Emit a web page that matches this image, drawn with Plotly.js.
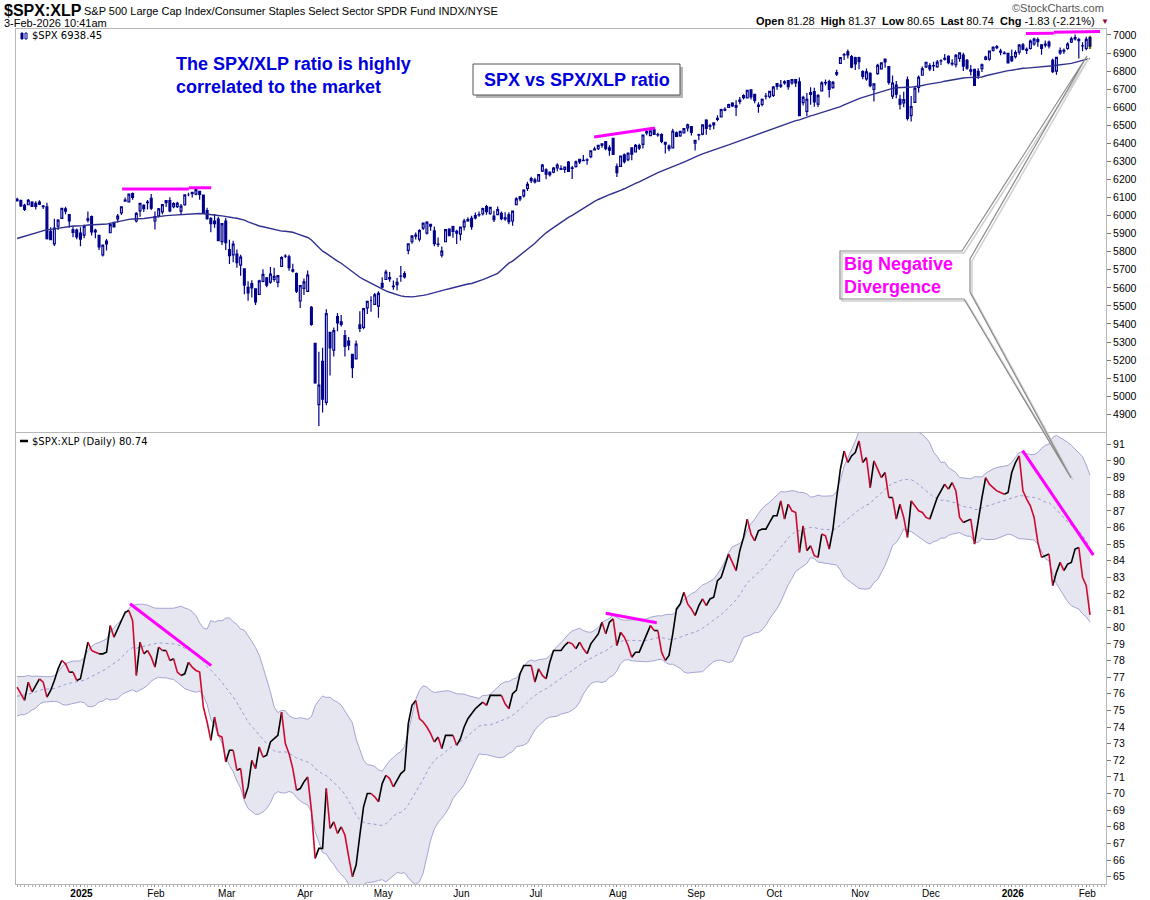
<!DOCTYPE html>
<html><head><meta charset="utf-8">
<script src="https://cdn.plot.ly/plotly-3.0.1.min.js"></script>
<style>html,body{margin:0;padding:0;background:#fff}#chart{width:1150px;height:900px}</style>
</head><body><div id="chart"></div>
<script>
// ---------- calendar ----------
const startDate = '2024-12-06', endDate = '2026-02-03';
const holidays = ['2024-12-25','2025-01-01','2025-01-09','2025-01-20','2025-02-17','2025-04-18','2025-05-26',
  '2025-06-19','2025-07-04','2025-09-01','2025-11-27','2025-12-25','2026-01-01','2026-01-19'];
const monthNames = ['Jan','Feb','Mar','Apr','May','Jun','Jul','Aug','Sep','Oct','Nov','Dec'];

// ---------- $SPX daily OHLC (Dec 6 2024 .. Feb 3 2026) ----------
const spxOpen = [
6081,6083,6057,6060,6075,6068,6063,6053,6048,5913,5843,5941,5985,6025,6006,5921,5920,
5903,5892,5982,5994,5910,5890,5782,5859,5905,5962,5982,6015,6080,6076,6121,5970,6026,6057,6074,6096,
5970,5998,6021,6072,6083,6049,6050,6025,6060,6115,6122,6118,6134,6114,6027,5983,5970,5981,5856,
5969,5812,5782,5787,5726,5705,5603,5624,5595,5563,5635,5655,5632,5646,5630,5718,5775,5772,5700,5679,5527,
5597,5580,5492,5292,4953,5193,4966,5353,5255,5441,5412,5335,5305,5232,5207,5395,5381,5489,5529,5508,5499,
5625,5646,5657,5610,5618,5665,5679,5807,5855,5886,5869,5930,5903,5951,5915,5841,5781,5855,5925,5939,5903,
5897,5938,5978,5985,5987,6004,6010,6050,6010,5997,6005,6013,5987,6004,5970,6061,6104,6109,6151,6194,
6187,6191,6246,6253,6241,6240,6264,6256,6255,6296,6261,6271,6311,6304,6307,6326,6368,6370,6397,6409,6375,6428,
6271,6272,6336,6309,6375,6352,6387,6394,6458,6443,6478,6446,6448,6405,6384,6375,6458,6441,6458,6486,6492,
6401,6445,6451,6529,6498,6502,6538,6546,6588,6599,6623,6609,6640,6653,6652,6696,6671,6612,6615,6662,6658,
6665,6731,6722,6734,6747,6735,6753,6740,6625,6577,6681,6686,6617,6690,6735,6742,6708,6783,6843,6890,6907,6880,6875,
6875,6797,6757,6788,6698,6786,6812,6866,6825,6661,6722,6643,6624,6751,6553,6627,6710,6777,6823,
6830,6830,6823,6856,6866,6882,6843,6835,6870,6888,6860,6807,6810,6798,6814,6865,6866,6914,6936,6910,6900,6898,
6880,6880,6905,6945,6915,6925,6950,6975,6945,6950,6960,6860,6800,6900,6910,6925,6960,6985,6975,6940,6925,6985];
const spxHigh = [
6099,6089,6065,6092,6080,6079,6085,6058,6071,5935,5982,5979,6040,6049,6007,5941,5929,
5935,5950,6022,6000,5927,5891,5836,5871,5960,5964,6009,6051,6100,6119,6128,6018,6069,6063,6086,6120,
6022,6042,6062,6084,6101,6074,6076,6064,6117,6127,6129,6147,6135,6114,6043,5992,6009,5994,5959,
5986,5866,5861,5812,5783,5706,5636,5642,5597,5645,5703,5660,5716,5711,5670,5775,5786,5783,5733,5685,5615,
5651,5696,5500,5292,5246,5268,5481,5353,5381,5460,5450,5367,5328,5232,5309,5470,5485,5528,5554,5571,5581,
5659,5700,5688,5641,5655,5721,5692,5845,5893,5906,5925,5959,5968,5954,5939,5878,5829,5924,5930,5944,5922,
5937,5982,5991,5999,6017,6022,6043,6060,6046,6027,6050,6023,6018,6018,6025,6101,6108,6146,6187,6215,
6210,6228,6285,6262,6242,6269,6290,6278,6272,6302,6275,6305,6315,6336,6317,6360,6381,6390,6401,6410,6390,6428,
6288,6330,6344,6350,6378,6396,6398,6446,6480,6473,6482,6459,6456,6407,6394,6481,6466,6470,6483,6508,6493,
6416,6453,6503,6533,6509,6513,6555,6592,6600,6619,6627,6639,6656,6672,6696,6697,6674,6627,6648,6678,6690,
6718,6731,6750,6749,6749,6755,6756,6765,6663,6678,6711,6708,6673,6744,6753,6752,6745,6807,6876,6900,6920,6889,6879,
6879,6804,6814,6793,6731,6841,6847,6870,6827,6775,6745,6669,6685,6770,6662,6713,6776,6825,6849,
6843,6851,6862,6866,6895,6888,6865,6895,6904,6902,6867,6834,6813,6816,6842,6885,6913,6937,6945,6923,6910,6900,
6920,6915,6950,6955,6930,6975,6985,6986,6950,6970,6970,6870,6880,6930,6925,6960,6990,7002,6985,6960,6990,6995];
const spxLow = [
6079,6048,6025,6060,6050,6034,6059,6036,5868,5866,5832,5920,5981,6007,5932,5880,5869,
5830,5875,5961,5890,5874,5809,5773,5806,5905,5935,5962,6003,6076,6074,6088,5962,5994,6020,6033,6031,
5923,5990,6007,6047,6019,6040,6042,6003,6054,6107,6100,6112,6088,6009,5977,5908,5933,5858,5837,
5810,5732,5742,5711,5667,5565,5528,5546,5505,5563,5631,5603,5622,5633,5603,5718,5765,5695,5685,5572,5489,
5560,5579,5390,5069,4835,4910,4950,5115,5220,5359,5386,5220,5255,5101,5207,5356,5371,5455,5468,5506,5434,
5597,5646,5633,5590,5586,5633,5651,5786,5844,5868,5857,5920,5895,5916,5830,5826,5768,5855,5886,5877,5843,
5862,5918,5966,5921,5978,5994,6001,6004,6005,5964,6005,5974,5971,5952,5943,6059,6080,6100,6136,6180,
6178,6189,6241,6201,6217,6235,6245,6252,6236,6243,6202,6266,6286,6303,6281,6317,6360,6363,6375,6362,6331,6335,
6213,6272,6289,6301,6306,6350,6363,6372,6445,6441,6446,6437,6400,6344,6356,6375,6438,6436,6456,6466,6444,
6360,6417,6445,6447,6474,6478,6522,6545,6577,6598,6601,6551,6617,6642,6652,6642,6622,6570,6605,6643,6649,
6657,6697,6707,6725,6697,6725,6712,6550,6610,6552,6613,6602,6601,6690,6720,6654,6702,6773,6843,6862,6870,6816,6806,
6810,6755,6747,6711,6632,6780,6809,6818,6724,6646,6650,6587,6600,6527,6521,6625,6682,6777,6817,
6800,6800,6818,6834,6858,6838,6829,6820,6852,6801,6807,6776,6719,6756,6795,6860,6857,6909,6921,6888,6893,6844,
6850,6870,6890,6915,6895,6920,6940,6935,6890,6930,6925,6790,6780,6890,6895,6918,6955,6970,6870,6910,6915,6922];
const spxClose = [
6090,6053,6034,6084,6051,6051,6074,6050,5872,5867,5931,5975,6040,6037,5971,5907,5882,
5869,5942,5975,5909,5918,5827,5836,5843,5950,5937,5997,6049,6086,6119,6101,6012,6068,6039,6071,6041,
5994,6037,6061,6083,6026,6066,6068,6052,6115,6115,6129,6144,6117,6013,5983,5955,5956,5861,5955,
5850,5778,5842,5739,5770,5615,5572,5599,5522,5639,5675,5615,5676,5663,5668,5767,5776,5712,5693,5581,5612,
5633,5671,5397,5074,5062,4983,5457,5268,5363,5406,5397,5276,5283,5158,5288,5376,5485,5525,5529,5561,5569,
5604,5687,5650,5607,5631,5664,5660,5844,5886,5892,5917,5958,5964,5941,5845,5842,5803,5922,5889,5912,5912,
5936,5970,5971,5939,6000,6006,6039,6022,6045,5977,6033,5983,5981,5967,6025,6092,6092,6141,6173,6205,
6198,6227,6279,6230,6226,6263,6280,6260,6269,6244,6264,6297,6297,6306,6309,6359,6363,6389,6390,6371,6362,6339,
6238,6330,6299,6345,6340,6389,6374,6446,6466,6469,6450,6449,6411,6396,6370,6467,6439,6466,6481,6502,6460,
6416,6448,6502,6482,6495,6513,6532,6587,6584,6615,6607,6600,6632,6664,6694,6657,6638,6605,6644,6661,6688,
6711,6715,6716,6740,6714,6753,6735,6553,6654,6644,6671,6630,6664,6735,6736,6699,6738,6792,6875,6891,6890,6822,6840,
6852,6771,6796,6720,6729,6832,6846,6851,6738,6734,6672,6617,6642,6538,6603,6705,6766,6813,6849,
6812,6829,6850,6857,6870,6847,6840,6887,6901,6827,6816,6800,6721,6775,6835,6878,6910,6932,6930,6905,6896,6845,
6858,6902,6944,6921,6921,6966,6977,6963,6926,6944,6940,6797,6876,6913,6915,6950,6978,6978,6969,6939,6976,6938];
// closes of the 49 sessions before the first bar (for the 50-day average)
const spxCloseBefore = [5738,5762,5709,5709,5700,5751,5696,5751,5792,5780,5815,5859,5815,5842,5841,5865,5853,5851,
5797,5809,5808,5823,5832,5813,5705,5729,5712,5782,5929,5973,5996,6001,5984,5985,5949,5871,5893,5917,5917,5949,
5970,5987,6021,5999,6032,6047,6050,6087,6075];

// ---------- $SPX:XLP ratio (daily close) ----------
const ratio = [
76.4,76.0,75.6,76.7,76.1,76.5,76.9,76.7,75.8,76.2,76.8,77.5,78.0,77.8,77.3,77.3,76.8,
76.9,78.0,79.1,78.6,78.5,78.4,78.4,78.5,80.1,79.4,79.9,80.3,80.9,81.0,80.4,77.1,79.1,78.4,78.6,78.2,
77.6,78.8,78.6,78.6,78.0,78.1,77.3,77.1,77.2,77.9,77.6,77.4,77.3,75.2,74.3,73.2,74.6,73.5,73.4,
71.9,72.6,72.6,71.4,71.5,69.7,70.4,72.0,71.5,72.8,72.2,72.3,73.1,73.3,73.5,74.9,73.0,72.4,71.5,70.2,70.3,
70.7,71.0,69.0,66.1,66.7,66.7,70.3,67.9,68.3,67.6,68.0,67.5,66.2,65.0,65.7,67.5,69.2,70.0,70.0,69.8,69.5,
70.6,71.1,70.9,70.4,70.8,71.2,71.4,74.2,75.3,75.6,74.5,74.3,74.0,73.6,73.1,73.4,72.7,73.5,73.5,73.5,72.9,
73.3,74.0,74.5,74.8,75.1,75.3,75.5,75.3,75.9,75.9,75.9,75.9,75.4,75.1,76.0,76.2,77.2,77.7,77.7,77.7,
76.7,77.5,77.1,76.9,77.9,78.6,78.6,78.6,78.9,79.1,79.0,78.7,79.1,78.7,78.4,79.0,79.3,79.6,80.3,79.6,80.3,80.5,
78.9,79.7,79.4,78.9,78.2,78.5,78.5,79.0,79.6,80.1,79.8,79.8,78.5,78.0,78.3,79.6,81.1,81.4,82.1,81.4,81.1,
80.7,81.3,81.7,81.3,81.7,81.8,82.8,83.0,83.7,84.4,83.9,83.4,84.6,85.4,86.5,85.6,85.2,85.8,85.9,85.9,86.3,
86.7,86.7,87.6,86.5,87.4,87.0,86.9,84.5,86.1,84.6,84.9,84.3,84.2,85.6,85.5,84.7,85.9,87.8,89.5,90.6,89.9,90.3,90.5,
91.2,89.9,90.2,88.4,90.0,89.5,89.0,89.3,87.8,87.8,86.5,87.4,86.6,85.4,87.6,87.3,87.0,86.9,86.6,
86.5,87.1,87.8,88.2,88.6,88.3,88.7,88.2,86.6,86.3,86.4,86.5,85.0,86.5,87.8,89.0,88.6,88.4,88.2,88.1,88.0,88.1,
89.3,89.9,90.3,88.2,87.7,87.3,86.6,85.1,84.2,84.3,84.4,82.5,83.3,83.9,83.4,83.8,83.9,84.7,84.8,83.0,82.5,80.74];
// 19 sessions before the first bar (for the 20-day Bollinger Bands)
const ratioBefore = [75.2,75.6,75.0,74.9,75.3,74.8,75.4,75.7,75.9,76.2,75.8,76.1,76.4,76.0,76.3,75.9,76.5,76.7,76.9];

// ---------- drawn trend lines: [index0, value0, index1, value1] ----------
const spxTrendLines = [[28.2,6147,46.1,6147],[46.1,6154,52.1,6154],[154.9,6435,171.2,6485],[270.8,7008,278.3,7009],[278.3,7015,290.7,7019]];
const ratioTrendLines = [[30.3,81.41,52.1,77.69],[158.0,80.84,171.7,80.27],[269.9,90.62,288.9,84.34]];

// ---------- build ----------
function tradingDates(s, e){
  const out = []; const d = new Date(s+'T00:00:00Z'); const end = new Date(e+'T00:00:00Z');
  while (d <= end){
    const wd = d.getUTCDay(); const iso = d.toISOString().slice(0,10);
    if (wd !== 0 && wd !== 6 && !holidays.includes(iso)) out.push(iso);
    d.setUTCDate(d.getUTCDate()+1);
  }
  return out;
}
const dates = tradingDates(startDate, endDate);
const idx = spxClose.map((_, i) => i);

const tickIdx = [], tickText = [];
for (let i = 1; i < dates.length; i++){
  if (dates[i].slice(5,7) !== dates[i-1].slice(5,7)){
    const m = +dates[i].slice(5,7);
    tickIdx.push(i);
    tickText.push(m === 1 ? '<b>' + dates[i].slice(0,4) + '</b>' : monthNames[m-1]);
  }
}

function sma(prior, vals, n){
  const all = prior.concat(vals), off = prior.length;
  return vals.map((_, i) => { let s = 0; for (let k = i+off-n+1; k <= i+off; k++) s += all[k]; return s/n; });
}
const spxMA50 = sma(spxCloseBefore, spxClose, 50);
const allRatio = ratioBefore.concat(ratio);
const bbMid = [], bbUp = [], bbLo = [];
ratio.forEach((_, i) => {
  const w = allRatio.slice(i, i+20); const m = w.reduce((a,b)=>a+b,0)/20;
  const sd = Math.sqrt(w.reduce((a,b)=>a+(b-m)*(b-m),0)/20);
  bbMid.push(m); bbUp.push(m+2*sd); bbLo.push(m-2*sd);
});

function dirSegments(xs, ys, up){
  const X = [], Y = []; let open = false;
  for (let i = 1; i < ys.length; i++){
    const isUp = ys[i] >= ys[i-1];
    if (isUp === up){
      if (!open){ X.push(xs[i-1]); Y.push(ys[i-1]); open = true; }
      X.push(xs[i]); Y.push(ys[i]);
    } else if (open){ X.push(null); Y.push(null); open = false; }
  }
  return {X, Y};
}
const upSeg = dirSegments(idx, ratio, true), dnSeg = dirSegments(idx, ratio, false);

const NAVY = '#00008b';
const traces = [
  {type:'scatter', mode:'lines', x:idx, y:spxMA50, xaxis:'x', yaxis:'y', line:{color:'#30308f', width:1.4}, hoverinfo:'skip'},
  {type:'candlestick', x:idx, open:spxOpen, high:spxHigh, low:spxLow, close:spxClose, xaxis:'x', yaxis:'y',
   whiskerwidth:0, hoverinfo:'skip',
   increasing:{line:{color:NAVY, width:1.2}, fillcolor:'#ffffff'},
   decreasing:{line:{color:NAVY, width:1.2}, fillcolor:NAVY}},
  {type:'scatter', mode:'lines', x:idx, y:bbLo, xaxis:'x2', yaxis:'y2', line:{color:'#a4a4d4', width:1}, hoverinfo:'skip'},
  {type:'scatter', mode:'lines', x:idx, y:bbUp, xaxis:'x2', yaxis:'y2', line:{color:'#a4a4d4', width:1}, fill:'tonexty', fillcolor:'#e6e6f1', hoverinfo:'skip'},
  {type:'scatter', mode:'lines', x:idx, y:bbMid, xaxis:'x2', yaxis:'y2', line:{color:'#9a9ad0', width:1, dash:'dot'}, hoverinfo:'skip'},
  {type:'scatter', mode:'lines', x:upSeg.X, y:upSeg.Y, xaxis:'x2', yaxis:'y2', line:{color:'#000000', width:1.6}, connectgaps:false, hoverinfo:'skip'},
  {type:'scatter', mode:'lines', x:dnSeg.X, y:dnSeg.Y, xaxis:'x2', yaxis:'y2', line:{color:'#cc0a30', width:1.6}, connectgaps:false, hoverinfo:'skip'}
];

// pixel -> paper helper for decorations
const L = 16, R = 1106, T = 29, B = 884;
const px = v => (v - L) / (R - L), py = v => (B - v) / (B - T);

const shapes = [];
const last = spxClose.length - 1;
shapes.push({type:'rect', xref:'x', yref:'y', layer:'below', x0:last-0.55, x1:last+0.55, y0:spxLow[last], y1:spxHigh[last], fillcolor:'#ffff66', line:{width:0}});
spxTrendLines.forEach(l => shapes.push({type:'line', xref:'x', yref:'y', x0:l[0], y0:l[1], x1:l[2], y1:l[3], line:{color:'#ff00ff', width:3}}));
ratioTrendLines.forEach(l => shapes.push({type:'line', xref:'x2', yref:'y2', x0:l[0], y0:l[1], x1:l[2], y1:l[3], line:{color:'#ff00ff', width:3}}));

// "SPX vs SPX/XLP ratio" box with shadow
shapes.push({type:'rect', xref:'paper', yref:'paper', x0:px(476), x1:px(683), y0:py(98), y1:py(67), fillcolor:'#b5b5b5', line:{width:0}});
shapes.push({type:'rect', xref:'paper', yref:'paper', x0:px(473), x1:px(680), y0:py(95), y1:py(64), fillcolor:'#ffffff', line:{color:'#555', width:1}});

// "Big Negative Divergence" callout
function callout(dx, dy, color, w){
  const P = (a,b) => px(a+dx) + ',' + py(b+dy);
  return {type:'path', xref:'paper', yref:'paper', line:{color:color, width:w},
    path:'M'+P(962,251)+' L'+P(1087,56)+' L'+P(970,259)+' L'+P(970,292)+' L'+P(1071,478)+' L'+P(964,299)+' L'+P(840,299)+' L'+P(840,251)+' Z'};
}
shapes.push({type:'rect', xref:'paper', yref:'paper', x0:px(840), x1:px(970), y0:py(299), y1:py(251), fillcolor:'#ffffff', line:{width:0}});
shapes.push(callout(2, 2, '#cfcfcf', 1.5));
shapes.push(callout(0, 0, '#8a8a8a', 1.2));

// panel legend glyphs
shapes.push({type:'rect', xref:'paper', yref:'paper', x0:px(21), x1:px(23), y0:py(39), y1:py(33), fillcolor:NAVY, line:{color:NAVY, width:1}});
shapes.push({type:'rect', xref:'paper', yref:'paper', x0:px(25), x1:px(27), y0:py(39), y1:py(33), fillcolor:'#fff', line:{color:NAVY, width:1}});
shapes.push({type:'line', xref:'paper', yref:'paper', x0:px(20), x1:px(28), y0:py(441), y1:py(441), line:{color:'#000', width:2.5}});

const AR = 'Liberation Sans, Arial, sans-serif', DV = 'DejaVu Sans, Verdana, sans-serif';
const ann = (x, y, text, opt) => Object.assign({xref:'paper', yref:'paper', x:px(x), y:py(y), text:text, showarrow:false,
  xanchor:'left', yanchor:'middle', align:'left', font:{family:AR, size:11, color:'#000'}}, opt || {});
const annotations = [
  ann(2, 11, '<b>$SPX:XLP</b>', {font:{family:AR, size:16, color:'#000'}}),
  ann(82, 11, 'S&P 500 Large Cap Index/Consumer Staples Select Sector SPDR Fund INDX/NYSE', {font:{family:AR, size:11, color:'#000'}}),
  ann(2, 23, '3-Feb-2026 10:41am', {font:{family:AR, size:11, color:'#000'}}),
  ann(1106, 8, '©StockCharts.com', {xanchor:'right', font:{family:AR, size:11, color:'#555'}}),
  ann(1097, 21, '<b>Open</b> 81.28  <b>High</b> 81.37  <b>Low</b> 80.65  <b>Last</b> 80.74  <b>Chg</b> -1.83 (-2.21%)', {xanchor:'right', font:{family:AR, size:11, color:'#000'}}),
  ann(1099, 21, '▼', {font:{family:AR, size:8, color:'#8b0a3a'}}),
  ann(30, 36, '$SPX 6938.45', {font:{family:DV, size:10, color:'#000'}}),
  ann(30, 441, '$SPX:XLP (Daily) 80.74', {font:{family:DV, size:10, color:'#000'}}),
  ann(174, 75, '<b>The SPX/XLP ratio is highly<br>correlated to the market</b>', {font:{family:AR, size:18, color:'#0000dd'}}),
  ann(576.5, 79.5, '<b>SPX vs SPX/XLP ratio</b>', {xanchor:'center', font:{family:AR, size:18, color:'#0000dd'}}),
  ann(842, 275, '<b>Big Negative<br>Divergence</b>', {font:{family:AR, size:18, color:'#ff00ff'}})
];

const xRange = [-0.3, 292.3];
const frame = {showline:true, linecolor:'#b8b8b8', linewidth:1, mirror:true, showgrid:false, zeroline:false};
const yTop = []; for (let v = 4900; v <= 7000; v += 100) yTop.push(v);
const yBot = []; for (let v = 65; v <= 91; v += 1) yBot.push(v);

const layout = {
  width:1150, height:900, paper_bgcolor:'#fff', plot_bgcolor:'#fff', showlegend:false,
  margin:{l:L, r:1150-R, t:T, b:900-B},
  xaxis: Object.assign({}, frame, {domain:[0,1], anchor:'y', range:xRange, showticklabels:false, ticks:'', rangeslider:{visible:false}}),
  xaxis2: Object.assign({}, frame, {domain:[0,1], anchor:'y2', range:xRange, tickmode:'array', tickvals:tickIdx, ticktext:tickText,
    ticks:'outside', ticklen:2, tickcolor:'#888', ticklabelshift:1, ticklabelstandoff:-2,
    minor:{ticks:'outside', ticklen:2, dtick:1, tick0:0, tickcolor:'#b0b0b0', showgrid:false},
    tickfont:{family:'Liberation Sans Narrow, Liberation Sans, Arial', size:10, color:'#000'}}),
  yaxis: Object.assign({}, frame, {domain:[0.5287,1], anchor:'x', side:'right', range:[4802,7033], tickmode:'array', tickvals:yTop,
    ticks:'outside', ticklen:4, tickcolor:'#777', tickfont:{family:AR, size:10.5, color:'#000'}}),
  yaxis2: Object.assign({}, frame, {domain:[0,0.5275], anchor:'x2', side:'right', range:[64.56,91.68], tickmode:'array', tickvals:yBot,
    ticks:'outside', ticklen:4, tickcolor:'#777', tickfont:{family:AR, size:10.5, color:'#000'}}),
  shapes:shapes, annotations:annotations
};
Plotly.newPlot('chart', traces, layout, {staticPlot:true, displayModeBar:false});
</script>
</body></html>
